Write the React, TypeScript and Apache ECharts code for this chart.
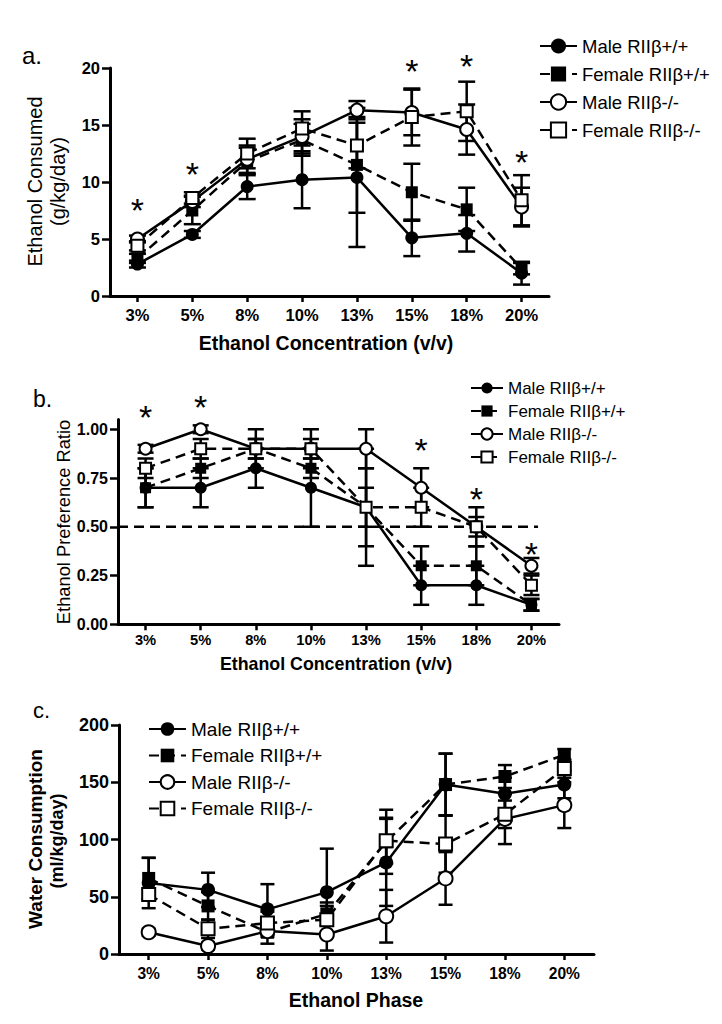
import React, { useEffect, useRef } from 'react';
import * as echarts from 'echarts';

// ---------- data ----------
const categories = ['3%', '5%', '8%', '10%', '13%', '15%', '18%', '20%'];
const seriesNames = ['Male RIIβ+/+', 'Female RIIβ+/+', 'Male RIIβ-/-', 'Female RIIβ-/-'];

// Panel a: Ethanol consumed (g/kg/day)
const consumedMaleWT = [2.8, 5.4, 9.6, 10.2, 10.4, 5.1, 5.5, 2.0];
const consumedMaleWTErr = [0.3, 0.3, 1.1, 2.5, 6.1, 1.6, 1.6, 1.0];
const consumedFemaleWT = [3.3, 7.5, 11.8, 13.7, 11.5, 9.1, 7.6, 2.4];
const consumedFemaleWTErr = [0.4, 1.2, 1.2, 1.4, 4.2, 2.5, 1.9, 0.5];
const consumedMaleKO = [5.0, 8.3, 12.0, 14.0, 16.3, 16.1, 14.6, 7.8];
const consumedMaleKOErr = [0.3, 0.5, 1.2, 1.5, 0.8, 2.0, 2.2, 1.7];
const consumedFemaleKO = [4.4, 8.6, 12.5, 14.7, 13.2, 15.7, 16.2, 8.4];
const consumedFemaleKOErr = [0.4, 0.5, 1.3, 1.5, 2.0, 2.5, 2.6, 2.2];
const sigConsumedCats = ['3%', '5%', '15%', '18%', '20%'];
const sigConsumedHeights = [8.2, 11.4, 20.4, 20.8, 12.4];

// Panel b: Ethanol preference ratio
const prefMaleWT = [0.7, 0.7, 0.8, 0.7, 0.6, 0.2, 0.2, 0.1];
const prefMaleWTErr = [0.1, 0.1, 0.1, 0.2, 0.3, 0.1, 0.1, 0.03];
const prefFemaleWT = [0.7, 0.8, 0.9, 0.8, 0.6, 0.3, 0.3, 0.1];
const prefFemaleWTErr = [0.1, 0.05, 0.1, 0.05, 0.1, 0.1, 0.1, 0.03];
const prefMaleKO = [0.9, 1.0, 0.9, 0.9, 0.9, 0.7, 0.5, 0.3];
const prefMaleKOErr = [0.02, 0.02, 0.05, 0.05, 0.1, 0.1, 0.05, 0.04];
const prefFemaleKO = [0.8, 0.9, 0.9, 0.9, 0.6, 0.6, 0.5, 0.2];
const prefFemaleKOErr = [0.05, 0.05, 0.05, 0.1, 0.2, 0.1, 0.1, 0.05];
const prefReference = 0.5;
const prefTicks = [0, 0.25, 0.5, 0.75, 1.0];
const sigPrefCats = ['3%', '5%', '15%', '18%', '20%'];
const sigPrefHeights = [1.1, 1.155, 0.93, 0.68, 0.4];

// Panel c: Water consumption (ml/kg/day)
const waterMaleWT = [62, 56, 39, 54, 80, 148, 140, 148];
const waterMaleWTErr = [22, 15, 22, 38, 38, 27, 14, 12];
const waterFemaleWT = [66, 42, 19, 35, 98, 148, 155, 174];
const waterFemaleWTErr = [18, 12, 10, 10, 28, 27, 10, 5];
const waterMaleKO = [19, 7, 20, 17, 33, 66, 118, 130];
const waterMaleKOErr = [3, 3, 5, 14, 23, 23, 22, 20];
const waterFemaleKO = [52, 22, 27, 30, 99, 96, 122, 162];
const waterFemaleKOErr = [5, 8, 10, 12, 20, 25, 12, 8];

// ---------- styling ----------
const FONT = '"Liberation Sans", Arial, Helvetica, sans-serif';
const groupStyles = [
  { symbol: 'circle', fill: '#000', dashed: false },
  { symbol: 'rect', fill: '#000', dashed: true },
  { symbol: 'circle', fill: '#fff', dashed: false },
  { symbol: 'rect', fill: '#fff', dashed: true },
];

function lineSeries(panel: number, g: number, data: number[], symSize: number) {
  const st = groupStyles[g];
  return {
    type: 'line',
    name: seriesNames[g],
    xAxisIndex: panel,
    yAxisIndex: panel,
    data,
    symbol: st.symbol,
    symbolSize: st.symbol === 'rect' ? symSize - 1 : symSize,
    showSymbol: true,
    silent: true,
    z: 4,
    lineStyle: { color: '#000', width: 2.5, type: st.dashed ? [10, 6] : 'solid' },
    itemStyle: { color: st.fill, borderColor: '#000', borderWidth: st.fill === '#fff' ? 2 : 0, opacity: 1 },
    emphasis: { disabled: true },
  };
}

function errorSeries(panel: number, vals: number[], errs: number[], capHalf: number) {
  return {
    type: 'custom',
    xAxisIndex: panel,
    yAxisIndex: panel,
    silent: true,
    z: 3,
    data: vals.map((v, i) => [i, v - errs[i], v + errs[i]]),
    encode: { x: 0, y: [1, 2] },
    renderItem: (params: any, api: any) => {
      const x = api.value(0);
      const lo = api.coord([x, api.value(1)]);
      const hi = api.coord([x, api.value(2)]);
      const style = { stroke: '#000', lineWidth: 2.5, fill: 'none' };
      return {
        type: 'group',
        children: [
          { type: 'line', shape: { x1: lo[0], y1: lo[1], x2: hi[0], y2: hi[1] }, style },
          { type: 'line', shape: { x1: lo[0] - capHalf, y1: lo[1], x2: lo[0] + capHalf, y2: lo[1] }, style },
          { type: 'line', shape: { x1: hi[0] - capHalf, y1: hi[1], x2: hi[0] + capHalf, y2: hi[1] }, style },
        ],
      };
    },
  };
}

function sigSeries(panel: number, cats: string[], heights: number[], fs: number) {
  return {
    type: 'custom',
    xAxisIndex: panel,
    yAxisIndex: panel,
    silent: true,
    z: 5,
    clip: false,
    data: cats.map((c, i) => [categories.indexOf(c), heights[i]]),
    encode: { x: 0, y: 1 },
    renderItem: (params: any, api: any) => {
      const p = api.coord([api.value(0), api.value(1)]);
      return {
        type: 'text',
        x: p[0],
        y: p[1] + fs * 0.22,
        style: {
          text: '*',
          fontSize: fs,
          fontFamily: FONT,
          fill: '#000',
          align: 'center',
          verticalAlign: 'middle',
          textAlign: 'center',
          textVerticalAlign: 'middle',
        },
      };
    },
  };
}

function xAxis(panel: number, fontSize: number, margin: number) {
  return {
    type: 'category',
    gridIndex: panel,
    data: categories,
    boundaryGap: true,
    axisLine: { show: true, lineStyle: { color: '#000', width: 3 } },
    axisTick: { show: true, alignWithLabel: true, interval: 0, length: 6, lineStyle: { color: '#000', width: 2.5 } },
    axisLabel: { interval: 0, color: '#000', fontWeight: 'bold', fontFamily: FONT, fontSize, margin },
    splitLine: { show: false },
  };
}

function yAxis(panel: number, min: number, max: number, interval: number, fontSize: number, extra: any = {}) {
  return {
    type: 'value',
    gridIndex: panel,
    min,
    max,
    interval,
    axisLine: { show: true, lineStyle: { color: '#000', width: 3 } },
    axisTick: { show: true, length: 8, lineStyle: { color: '#000', width: 2.5 }, ...(extra.axisTick || {}) },
    axisLabel: { color: '#000', fontWeight: 'bold', fontFamily: FONT, fontSize, margin: 10, ...(extra.axisLabel || {}) },
    splitLine: { show: false },
  };
}

function legend(left: number, top: number, itemWidth: number, itemHeight: number, gap: number, fontSize: number, lh: number) {
  return {
    show: true,
    orient: 'vertical',
    left,
    top,
    padding: 0,
    itemWidth,
    itemHeight,
    itemGap: gap,
    selectedMode: false,
    data: seriesNames,
    textStyle: { fontFamily: FONT, fontSize, color: '#000', lineHeight: lh },
  };
}

function txt(text: string, x: number, y: number, size: number, weight: string, rotate = false, align = 'center') {
  return {
    type: 'text',
    x,
    y,
    rotation: rotate ? Math.PI / 2 : 0,
    silent: true,
    style: {
      text,
      fontSize: size,
      fontWeight: weight,
      fontFamily: FONT,
      fill: '#000',
      align,
      verticalAlign: 'middle',
      textAlign: align,
      textVerticalAlign: 'middle',
    },
  };
}

export default function App() {
  const ref = useRef<HTMLDivElement>(null);

  useEffect(() => {
    if (!ref.current) return;
    const chart = echarts.init(ref.current, undefined, { renderer: 'svg' });

    const option: any = {
      animation: false,
      backgroundColor: '#fff',
      grid: [
        { left: 110, top: 68, width: 439, height: 228 },
        { left: 118, top: 419.5, width: 441, height: 204.8 },
        { left: 119, top: 725, width: 475, height: 229 },
      ],
      xAxis: [xAxis(0, 16.5, 10.5), xAxis(1, 14.7, 8.3), xAxis(2, 15.6, 11)],
      yAxis: [
        yAxis(0, 0, 20, 5, 16.5),
        yAxis(1, 0, 1.05, 0.25, 16, {
          axisLabel: { customValues: prefTicks, formatter: (v: number) => v.toFixed(2) },
          axisTick: { customValues: prefTicks },
        }),
        yAxis(2, 0, 200, 50, 18),
      ],
      legend: [
        legend(539, 36, 37, 19, 8, 18.5, 20),
        legend(470, 379, 32, 14, 5, 17, 18),
        legend(148, 719, 37, 17, 6.5, 19, 20),
      ],
      graphic: [
        txt('a.', 22, 55, 24, 'normal', false, 'left'),
        txt('b.', 33, 399, 23, 'normal', false, 'left'),
        txt('c.', 33, 710, 22, 'normal', false, 'left'),
        txt('Ethanol Consumed', 35, 181.5, 20, 'normal', true),
        txt('(g/kg/day)', 58, 181.5, 20, 'normal', true),
        txt('Ethanol Preference Ratio', 63.5, 522, 18.3, 'normal', true),
        txt('Water Consumption', 35, 839, 19, 'bold', true),
        txt('(ml/kg/day)', 57, 841, 18, 'bold', true),
        txt('Ethanol Concentration (v/v)', 326, 343, 19.5, 'bold'),
        txt('Ethanol Concentration (v/v)', 336, 664, 17.8, 'bold'),
        txt('Ethanol Phase', 356, 1000, 19.5, 'bold'),
      ],
      series: [
        // panel a
        errorSeries(0, consumedMaleWT, consumedMaleWTErr, 8.5),
        errorSeries(0, consumedFemaleWT, consumedFemaleWTErr, 8.5),
        errorSeries(0, consumedMaleKO, consumedMaleKOErr, 8.5),
        errorSeries(0, consumedFemaleKO, consumedFemaleKOErr, 8.5),
        lineSeries(0, 0, consumedMaleWT, 13),
        lineSeries(0, 1, consumedFemaleWT, 13),
        lineSeries(0, 2, consumedMaleKO, 13),
        lineSeries(0, 3, consumedFemaleKO, 13),
        sigSeries(0, sigConsumedCats, sigConsumedHeights, 34),
        // panel b
        {
          type: 'custom',
          xAxisIndex: 1,
          yAxisIndex: 1,
          silent: true,
          z: 2,
          clip: false,
          data: [[0, prefReference]],
          encode: { x: 0, y: 1 },
          renderItem: (params: any, api: any) => {
            const y = api.value(1);
            const p0 = api.coord([0, y]);
            const pN = api.coord([categories.length - 1, y]);
            const band = api.size([1, 0], [0, y])[0];
            return {
              type: 'line',
              shape: { x1: p0[0] - band / 2, y1: p0[1], x2: pN[0] + band * 0.12, y2: pN[1] },
              style: { stroke: '#000', lineWidth: 2.5, lineDash: [10, 6] },
            };
          },
        },
        errorSeries(1, prefMaleWT, prefMaleWTErr, 8),
        errorSeries(1, prefFemaleWT, prefFemaleWTErr, 8),
        errorSeries(1, prefMaleKO, prefMaleKOErr, 8),
        errorSeries(1, prefFemaleKO, prefFemaleKOErr, 8),
        lineSeries(1, 0, prefMaleWT, 12),
        lineSeries(1, 1, prefFemaleWT, 12),
        lineSeries(1, 2, prefMaleKO, 12),
        lineSeries(1, 3, prefFemaleKO, 12),
        sigSeries(1, sigPrefCats, sigPrefHeights, 34),
        // panel c
        errorSeries(2, waterMaleWT, waterMaleWTErr, 7),
        errorSeries(2, waterFemaleWT, waterFemaleWTErr, 7),
        errorSeries(2, waterMaleKO, waterMaleKOErr, 7),
        errorSeries(2, waterFemaleKO, waterFemaleKOErr, 7),
        lineSeries(2, 0, waterMaleWT, 14),
        lineSeries(2, 1, waterFemaleWT, 14),
        lineSeries(2, 2, waterMaleKO, 14),
        lineSeries(2, 3, waterFemaleKO, 14),
      ],
    };

    chart.setOption(option);
    return () => chart.dispose();
  }, []);

  return (
    <div
      ref={ref}
      style={{ position: 'absolute', left: 0, top: 0, width: 722, height: 1024, background: '#fff' }}
    />
  );
}
